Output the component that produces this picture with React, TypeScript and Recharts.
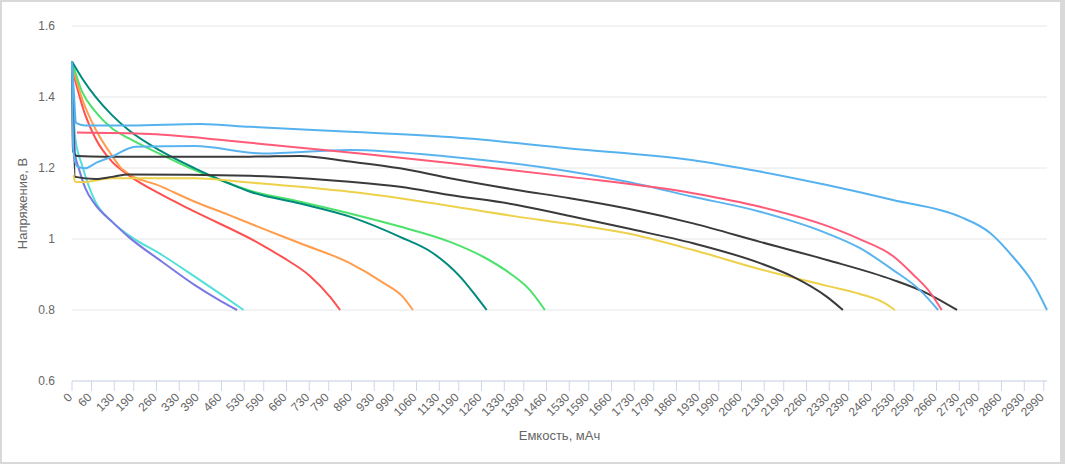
import { LineChart, Line, XAxis, YAxis, CartesianGrid } from "recharts";

// [мАч, В] pairs
const BLUE_TOP = [
  [0, 1.5], [6, 1.41], [12, 1.327], [40, 1.32], [178, 1.32], [394, 1.324], [548, 1.316],
  [855, 1.302], [1163, 1.287], [1532, 1.255], [1911, 1.222], [2117, 1.19], [2323, 1.152],
  [2526, 1.11], [2732, 1.063], [2825, 1.017], [2895, 0.95], [2957, 0.876], [3000, 0.8],
];
const PINK = [
  [15, 1.3], [240, 1.296], [548, 1.271], [886, 1.241], [1163, 1.214], [1532, 1.175],
  [1911, 1.129], [2117, 1.091], [2323, 1.037], [2425, 0.999], [2526, 0.952], [2588, 0.9],
  [2640, 0.85], [2676, 0.8],
];
const BLUE_LOW = [
  [0, 1.5], [4, 1.25], [15, 1.205], [40, 1.199], [75, 1.215], [123, 1.232], [195, 1.26],
  [378, 1.262], [585, 1.241], [855, 1.251], [1163, 1.232], [1532, 1.19], [1708, 1.161],
  [1911, 1.119], [2117, 1.077], [2323, 1.016], [2425, 0.974], [2526, 0.913], [2609, 0.856],
  [2665, 0.8],
];
const DARK_TOP = [
  [0, 1.5], [3, 1.248], [15, 1.234], [100, 1.232], [548, 1.232], [702, 1.234], [855, 1.218],
  [1009, 1.199], [1163, 1.171], [1369, 1.138], [1532, 1.115], [1708, 1.086], [1911, 1.044],
  [2117, 0.992], [2323, 0.941], [2526, 0.885], [2631, 0.847], [2723, 0.8],
];
const DARK_LOW = [
  [0, 1.5], [10, 1.175], [72, 1.169], [123, 1.175], [174, 1.182], [548, 1.178], [855, 1.161],
  [1009, 1.147], [1163, 1.124], [1369, 1.096], [1532, 1.065], [1708, 1.03], [1911, 0.988],
  [2117, 0.932], [2218, 0.894], [2323, 0.837], [2372, 0.8],
];
const YELLOW = [
  [5, 1.18], [10, 1.161], [31, 1.16], [123, 1.171], [378, 1.171], [548, 1.159], [855, 1.133],
  [1009, 1.115], [1163, 1.093], [1369, 1.063], [1532, 1.042], [1708, 1.016], [1911, 0.969],
  [2117, 0.915], [2323, 0.868], [2425, 0.845], [2495, 0.822], [2532, 0.8],
];
const GREEN = [
  [0, 1.5], [31, 1.415], [72, 1.359], [123, 1.312], [174, 1.284], [277, 1.237], [378, 1.194],
  [482, 1.157], [548, 1.136], [702, 1.105], [855, 1.072], [1009, 1.035], [1163, 0.992],
  [1265, 0.95], [1348, 0.903], [1409, 0.856], [1455, 0.8],
];
const TEAL = [
  [0, 1.5], [31, 1.453], [72, 1.401], [123, 1.349], [174, 1.307], [277, 1.246], [378, 1.199],
  [482, 1.157], [548, 1.133], [702, 1.1], [855, 1.063], [1009, 1.006], [1111, 0.96],
  [1194, 0.894], [1245, 0.837], [1276, 0.8],
];
const ORANGE = [
  [3, 1.48], [31, 1.395], [72, 1.31], [123, 1.235], [154, 1.197], [277, 1.147], [378, 1.105],
  [482, 1.068], [585, 1.03], [702, 0.988], [855, 0.932], [957, 0.877], [1018, 0.837], [1049, 0.8],
];
const RED = [
  [3, 1.47], [41, 1.349], [72, 1.284], [123, 1.218], [174, 1.18], [277, 1.124], [378, 1.077],
  [585, 0.983], [649, 0.948], [732, 0.896], [794, 0.837], [825, 0.8],
];
const CYAN = [
  [0, 1.5], [10, 1.284], [31, 1.208], [72, 1.105], [123, 1.049], [174, 1.011], [277, 0.955],
  [378, 0.894], [462, 0.842], [528, 0.8],
];
const PURPLE = [
  [0, 1.45], [10, 1.237], [21, 1.199], [41, 1.143], [72, 1.096], [123, 1.049], [174, 1.006],
  [277, 0.936], [378, 0.87], [462, 0.823], [508, 0.8],
];

const X_TICKS = [
  0, 60, 130, 190, 260, 330, 390, 460, 530, 590, 660, 730, 790, 860, 930, 990, 1060, 1130,
  1190, 1260, 1330, 1390, 1460, 1530, 1590, 1660, 1730, 1790, 1860, 1930, 1990, 2060, 2130,
  2190, 2260, 2330, 2390, 2460, 2530, 2590, 2660, 2730, 2790, 2860, 2930, 2990,
];
const Y_TICKS = [0.6, 0.8, 1, 1.2, 1.4, 1.6];

const SERIES = [
  { name: "a", points: CYAN, color: "#52e0d8" },
  { name: "b", points: PURPLE, color: "#7b78e3" },
  { name: "c", points: RED, color: "#ff5050" },
  { name: "d", points: ORANGE, color: "#ff9d4d" },
  { name: "e", points: GREEN, color: "#4ce26b" },
  { name: "f", points: TEAL, color: "#008a7c" },
  { name: "g", points: YELLOW, color: "#eed14a" },
  { name: "h", points: DARK_LOW, color: "#3a3a3a" },
  { name: "i", points: DARK_TOP, color: "#3a3a3a" },
  { name: "j", points: BLUE_LOW, color: "#5ab4f0" },
  { name: "k", points: PINK, color: "#ff5a78" },
  { name: "l", points: BLUE_TOP, color: "#55b2ee" },
];

const FONT = '"Liberation Sans", Arial, sans-serif';

const XTick = ({ x, y, payload }: any) => (
  <g transform={`translate(${x + 1},${y + 5})`}>
    <text textAnchor="end" transform="rotate(-45)" fill="#666" fontSize={12} fontFamily={FONT}>
      {payload.value}
    </text>
  </g>
);

const YLabel = ({ viewBox }: any) => {
  const cx = viewBox.x + 20;
  const cy = viewBox.y + viewBox.height / 2;
  return (
    <text x={cx} y={cy} transform={`rotate(-90,${cx},${cy})`} textAnchor="middle"
      dominantBaseline="central" fill="#666" fontSize={13} fontFamily={FONT}>
      Напряжение, В
    </text>
  );
};

export default function App() {
  return (
    <div style={{ position: "absolute", left: 0, top: 0, width: 1065, height: 464, background: "#d9d9d9" }}>
      <div style={{ position: "absolute", left: 2, top: 2, width: 1058, height: 460, background: "#fff" }}>
        <LineChart width={1058} height={460} margin={{ top: 24, right: 13, left: 0, bottom: 0 }}
          style={{ fontFamily: FONT }}>
          <CartesianGrid vertical={false} stroke="#e6e6e6" />
          <XAxis
            dataKey="x"
            type="number"
            domain={[0, 3000]}
            ticks={X_TICKS}
            interval={0}
            height={81}
            tickSize={10}
            stroke="#ccd6eb"
            tick={<XTick />}
            allowDuplicatedCategory={false}
            label={{ value: "Емкость, мАч", position: "insideBottom", offset: 22, fill: "#666", fontSize: 13 }}
          />
          <YAxis
            type="number"
            domain={[0.6, 1.6]}
            ticks={Y_TICKS}
            width={70}
            axisLine={false}
            tickLine={false}
            tickMargin={11}
            tick={{ fill: "#666", fontSize: 12 }}
            label={YLabel}
          />
          {SERIES.map((s) => (
            <Line
              key={s.name}
              data={s.points.map(([x, v]) => ({ x, v }))}
              dataKey="v"
              type="monotone"
              stroke={s.color}
              strokeWidth={2}
              dot={false}
              activeDot={false}
              isAnimationActive={false}
            />
          ))}
        </LineChart>
      </div>
    </div>
  );
}
